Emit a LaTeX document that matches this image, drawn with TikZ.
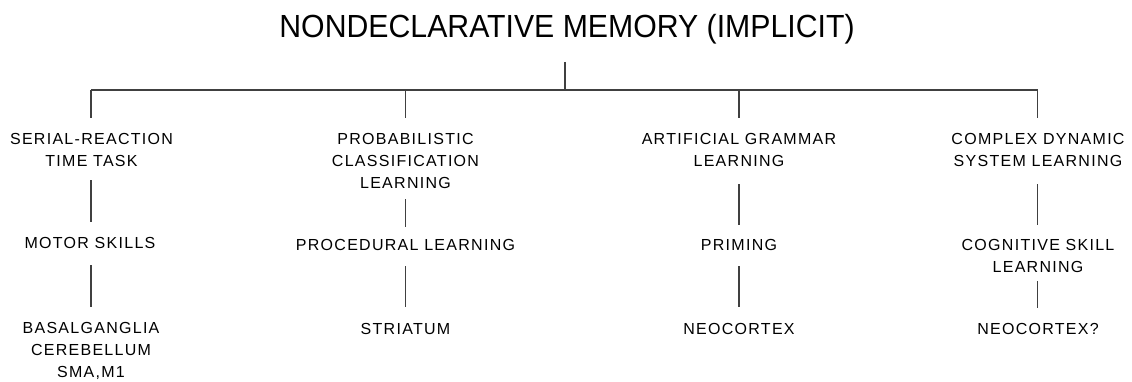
\documentclass[tikz,border=0pt]{standalone}
\usepackage{fontspec}
\setmainfont{Liberation Sans}
\newfontfamily\titlefont[FakeStretch=0.945]{Liberation Sans}
\newfontfamily\lblfont[LetterSpace=8]{Liberation Sans}
\begin{document}
\begin{tikzpicture}[x=1pt,y=-1pt,
  lbl/.style={inner sep=0pt,outer sep=0pt,align=center,anchor=north,
    font=\lblfont\fontsize{16}{22}\selectfont},
  ttl/.style={inner sep=0pt,outer sep=0pt,anchor=base,
    font=\titlefont\fontsize{32}{36}\selectfont},
  conn/.style={draw=black!75,line width=1.5pt}]
\useasboundingbox (0,0) rectangle (1132,382);
\fill[white] (0,0) rectangle (1132,382);

\node[ttl] (title) at (567,37.3) {NONDECLARATIVE MEMORY (IMPLICIT)};

\coordinate (hub) at (565,90);
\coordinate (j1) at (91,90);
\coordinate (j2) at (405.5,90);
\coordinate (j3) at (739,90);
\coordinate (j4) at (1037.5,90);

% column 1
\node[lbl] (t1) at (91.5,133.8) {SERIAL-REACTION\\TIME TASK};
\node[lbl] (m1) at (90,237) {MOTOR SKILLS};
\node[lbl] (b1) at (91,322) {BASALGANGLIA\\CEREBELLUM\\SMA,M1};
% column 2
\node[lbl] (t2) at (405.5,133.8) {PROBABILISTIC\\CLASSIFICATION\\LEARNING};
\node[lbl] (m2) at (405.5,239) {PROCEDURAL LEARNING};
\node[lbl] (b2) at (405.5,323) {STRIATUM};
% column 3
\node[lbl] (t3) at (739,133.8) {ARTIFICIAL GRAMMAR\\LEARNING};
\node[lbl] (m3) at (739,239) {PRIMING};
\node[lbl] (b3) at (739,323) {NEOCORTEX};
% column 4
\node[lbl] (t4) at (1038,133.8) {COMPLEX DYNAMIC\\SYSTEM LEARNING};
\node[lbl] (m4) at (1038,239) {COGNITIVE SKILL\\LEARNING};
\node[lbl] (b4) at (1038,323) {NEOCORTEX?};

% tree
\draw[conn,shorten <=18pt] (title.south -| hub) -- (hub);
\draw[conn] (j1) -- (j4);
\draw[conn,shorten >=16pt] (j1) -- (j1 |- t1.north);
\draw[conn,shorten >=16pt] (j2) -- (j2 |- t2.north);
\draw[conn,shorten >=16pt] (j3) -- (j3 |- t3.north);
\draw[conn,shorten >=16pt] (j4) -- (j4 |- t4.north);

% column connectors
\draw[conn,shorten <=13pt,shorten >=15pt] (j1 |- t1.south) -- (j1 |- m1.north);
\draw[conn,shorten <=17pt,shorten >=15pt] (j1 |- m1.south) -- (j1 |- b1.north);
\draw[conn,shorten <=10pt,shorten >=12pt] (j2 |- t2.south) -- (j2 |- m2.north);
\draw[conn,shorten <=16pt,shorten >=16pt] (j2 |- m2.south) -- (j2 |- b2.north);
\draw[conn,shorten <=17pt,shorten >=14pt] (j3 |- t3.south) -- (j3 |- m3.north);
\draw[conn,shorten <=16pt,shorten >=16pt] (j3 |- m3.south) -- (j3 |- b3.north);
\draw[conn,shorten <=17pt,shorten >=14pt] (j4 |- t4.south) -- (j4 |- m4.north);
\draw[conn,shorten <=9pt,shorten >=15pt] (j4 |- m4.south) -- (j4 |- b4.north);
\end{tikzpicture}
\end{document}
